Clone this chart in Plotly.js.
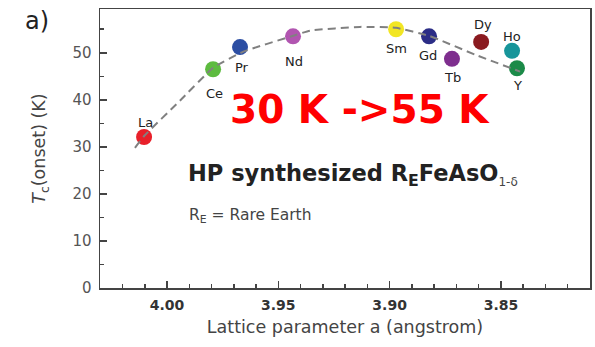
<!DOCTYPE html>
<html>
<head>
<meta charset="utf-8">
<script src="https://cdn.plot.ly/plotly-3.0.1.min.js"></script>
<style>
html,body{margin:0;padding:0;background:#fff;}
#chart{width:595px;height:347px;}
</style>
</head>
<body>
<div id="chart"></div>
<script>
// Rare-earth elements and their values
const elements = ['La', 'Ce', 'Pr', 'Nd', 'Sm', 'Gd', 'Tb', 'Dy', 'Ho', 'Y'];
const latticeA = [4.0103, 3.9793, 3.9672, 3.9434, 3.8971, 3.8823, 3.8720, 3.8589, 3.8450, 3.8428];
const tcOnset = [32.1, 46.5, 51.2, 53.5, 55.0, 53.5, 48.7, 52.3, 50.4, 46.7];
const markerColors = ['#e8202a', '#5dbb3f', '#2c4ea3', '#b155b0', '#f2e623', '#2b2d86', '#7e2e8e', '#8a1a1f', '#17959a', '#1b8a48'];

// Dashed guide curve
const guideA = [4.0144, 4.0103, 3.9942, 3.9793, 3.9659, 3.9447, 3.9358, 3.9133, 3.8971, 3.8823, 3.8616, 3.8414];
const guideTc = [29.8, 32.3, 39.8, 46.8, 50.2, 53.4, 54.7, 55.5, 55.3, 53.6, 49.6, 46.0];

// Tick labels
const xTickVals = [4.00, 3.95, 3.90, 3.85];
const xTickText = ['4.00', '3.95', '3.90', '3.85'];
const yTickVals = [0, 10, 20, 30, 40, 50];
const yTickText = ['0', '10', '20', '30', '40', '50'];

// label offsets in pixels (style, not data)
const labelShift = {
  La: [1, 14], Ce: [1, -24], Pr: [2, -20], Nd: [1, -25], Sm: [0, -19],
  Gd: [-1, -19], Tb: [1, -19], Dy: [2, 17], Ho: [0, 14], Y: [1, -17]
};

const FONT = 'DejaVu Sans, Arial, sans-serif';

const traces = [
  {
    type: 'scatter', mode: 'markers',
    x: latticeA, y: tcOnset,
    marker: {size: 16, color: markerColors, line: {width: 0}},
    hoverinfo: 'skip', showlegend: false
  },
  {
    type: 'scatter', mode: 'lines',
    x: guideA, y: guideTc,
    line: {color: '#808080', width: 2, dash: '8px,5px', shape: 'spline', smoothing: 0.4},
    hoverinfo: 'skip', showlegend: false
  }
];

const annotations = elements.map((el, i) => ({
  x: latticeA[i], y: tcOnset[i], xref: 'x', yref: 'y',
  text: el, showarrow: false,
  xshift: labelShift[el][0], yshift: labelShift[el][1],
  font: {family: FONT, size: 13, color: '#222'}
}));

annotations.push(
  {xref: 'paper', yref: 'paper', x: 0.5306, y: 0.638, xanchor: 'center', yanchor: 'middle',
   text: '30 K ->55 K', showarrow: false,
   font: {family: FONT, size: 39, color: '#ff0000', weight: 'bold'}},
  {xref: 'paper', yref: 'paper', x: 0.176, y: 0.405, xanchor: 'left', yanchor: 'middle',
   text: 'HP synthesized R<sub>E</sub>FeAsO<sub><span style="font-size:12px;font-weight:normal;color:#444">1-δ</span></sub>', showarrow: false,
   font: {family: FONT, size: 22.5, color: '#222', weight: 'bold'}},
  {xref: 'paper', yref: 'paper', x: 0.178, y: 0.258, xanchor: 'left', yanchor: 'middle',
   text: 'R<sub>E</sub> = Rare Earth', showarrow: false,
   font: {family: FONT, size: 15.5, color: '#444'}},
  {xref: 'paper', yref: 'paper', x: (37 - 100) / 490, y: (288 - 21) / 279, xanchor: 'center', yanchor: 'middle',
   text: 'a)', showarrow: false,
   font: {family: FONT, size: 24, color: '#222'}}
);

const layout = {
  width: 595, height: 347,
  margin: {l: 100, r: 5, t: 9, b: 59},
  paper_bgcolor: '#fff', plot_bgcolor: '#fff',
  font: {family: FONT},
  showlegend: false,
  xaxis: {
    range: [4.0301, 3.8100],
    tickmode: 'array', tickvals: xTickVals, ticktext: xTickText,
    ticks: 'inside', ticklen: 7, tickwidth: 1.5, tickcolor: '#444',
    minor: {dtick: 0.01, tick0: 4.0, ticks: 'inside', ticklen: 4, tickwidth: 1.5, tickcolor: '#444', showgrid: false},
    showline: true, linecolor: '#444', linewidth: 1.5, mirror: true,
    showgrid: false, zeroline: false,
    tickfont: {family: FONT, size: 14, color: '#333', weight: 'bold'},
    ticklabelstandoff: 4,
    title: {text: 'Lattice parameter a (angstrom)', font: {family: FONT, size: 17.5, color: '#444'}, standoff: 8},
    automargin: false
  },
  yaxis: {
    range: [0, 59.3],
    tickmode: 'array', tickvals: yTickVals, ticktext: yTickText,
    ticks: 'inside', ticklen: 7, tickwidth: 1.5, tickcolor: '#444',
    minor: {dtick: 5, tick0: 0, ticks: 'inside', ticklen: 4, tickwidth: 1.5, tickcolor: '#444', showgrid: false},
    showline: true, linecolor: '#444', linewidth: 1.5, mirror: true,
    showgrid: false, zeroline: false,
    tickfont: {family: FONT, size: 15, color: '#555'},
    ticklabelstandoff: 4,
    title: {text: '<i>T</i><sub>c</sub>(onset) (K)', font: {family: FONT, size: 17.5, color: '#444'}, standoff: 22},
    automargin: false
  },
  annotations: annotations
};

Plotly.newPlot('chart', traces, layout, {displayModeBar: false, staticPlot: true});
</script>
</body>
</html>
